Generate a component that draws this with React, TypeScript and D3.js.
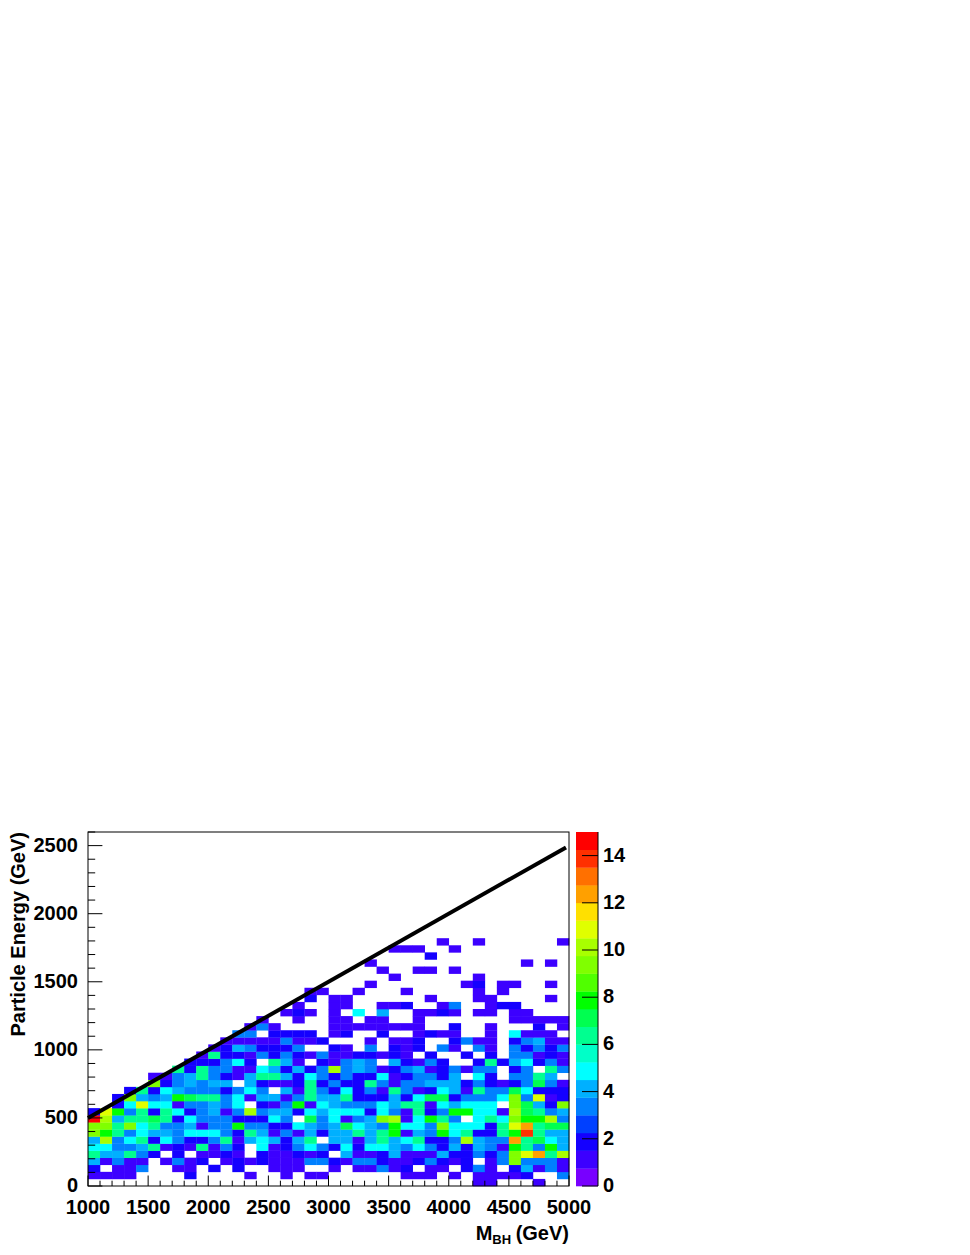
import { scaleLinear, scaleQuantize, scaleBand, range, line } from 'd3';

const width = 970;
const height = 1255;

// frame in page pixels
const left = 88;
const right = 569;
const top = 832;
const bottom = 1186;

// palette of the z axis, bottom to top (20 contours over 0-15)
const palette = [
    '#7800ff', '#3c00ff', '#1400ff', '#0040ff', '#0080ff', '#00b0ff', '#00ffff', '#00ffc8', '#00ff90', '#00ff50',
    '#00ff00', '#50ff00', '#80ff00', '#a8ff00', '#e0ff00', '#ffe000', '#ffa000', '#ff7000', '#ff3000', '#ff0000',
];

const xTicks = [1000, 1500, 2000, 2500, 3000, 3500, 4000, 4500, 5000];
const yTicks = [0, 500, 1000, 1500, 2000, 2500];
const zTicks = [0, 2, 4, 6, 8, 10, 12, 14];

// the M = 2E limit, drawn in black
const limitMass = [1000, 4975];
const limitEnergy = [500, 2487];

// one row per energy bin, from the bottom up; 40 mass bins, 50 energy bins
const row00 = [0,0,0,0,0,0,0,0,0,0, 0,0,0,0,0,0,0,0,0,0, 0,0,0,0,0,0,0,0,0,0, 0,0,1,1,0,0,0,1,0,0];
const row01 = [1,1,1,1,0,0,0,0,2,0, 0,0,0,1,0,0,1,0,1,1, 0,0,0,0,0,0,1,1,1,0, 1,0,1,1,1,1,2,0,0,3];
const row02 = [2,0,1,1,3,0,0,1,1,0, 2,0,2,0,0,1,1,1,0,0, 1,0,1,1,3,1,2,0,1,1, 0,2,3,1,0,2,4,1,3,1];
const row03 = [4,1,3,1,1,0,1,3,1,2, 0,1,2,1,2,1,1,1,3,3, 2,1,3,3,2,1,1,2,3,2, 1,2,0,1,3,9,3,3,3,1];
const row04 = [6,4,4,6,3,2,0,2,0,1, 1,2,1,0,2,1,1,2,1,2, 0,4,1,1,2,4,1,1,1,4, 2,2,3,2,3,9,11,12,6,10];
const row05 = [5,5,3,3,4,6,1,2,1,6, 1,3,2,0,5,1,2,3,5,3, 2,5,2,5,5,4,3,5,3,2, 4,2,4,3,1,8,6,3,8,4];
const row06 = [4,10,3,5,6,2,5,3,2,2, 3,6,1,4,5,4,2,4,6,0, 4,4,1,4,6,4,5,6,2,2, 3,10,4,3,3,12,6,7,5,4];
const row07 = [9,8,6,3,5,4,4,3,5,5, 5,3,2,6,4,1,3,1,4,2, 4,4,6,4,6,8,1,4,3,8, 5,6,2,2,6,8,14,6,4,4];
const row08 = [9,9,6,9,5,6,3,3,4,1, 3,3,8,3,3,2,2,5,4,3, 4,7,5,4,3,8,5,5,3,9, 5,5,5,2,6,11,12,6,7,7];
const row09 = [15,10,4,6,6,7,6,2,5,3, 3,3,2,2,2,5,3,0,7,3, 5,1,3,4,9,10,1,5,8,6, 3,0,5,6,5,9,8,8,10,3];
const row10 = [2,11,8,3,6,2,6,5,2,3, 4,1,3,10,3,4,4,2,5,4, 5,5,5,2,5,3,1,6,2,3, 8,8,5,5,1,10,7,6,3,4];
const row11 = [0,0,2,5,11,5,5,1,3,3, 4,3,5,0,2,1,3,8,1,5, 4,3,3,3,5,4,6,6,1,5, 4,5,5,5,0,9,7,4,2,9];
const row12 = [0,0,2,9,4,3,4,8,7,6, 6,3,5,1,4,4,1,3,6,4, 4,6,2,2,2,4,2,5,7,7, 2,3,3,3,5,9,3,11,1,2];
const row13 = [0,0,0,2,6,2,5,4,3,3, 3,2,3,5,3,0,4,1,6,3, 2,5,2,3,1,6,3,1,2,5, 4,1,6,3,3,7,5,2,2,2];
const row14 = [0,0,0,0,0,9,2,3,4,3, 4,4,0,4,2,1,1,2,6,2, 3,2,2,6,3,1,3,3,4,4, 4,2,3,2,1,2,3,7,3,1];
const row15 = [0,0,0,0,0,1,1,3,4,6, 3,2,1,4,6,6,4,2,5,3, 2,3,2,2,5,1,2,3,3,2, 4,0,5,2,0,3,3,6,4,0];
const row16 = [0,0,0,0,0,0,0,6,2,6, 3,3,1,1,5,4,2,4,2,3, 10,3,4,3,1,2,3,4,1,2, 3,1,3,3,0,2,3,0,6,3];
const row17 = [0,0,0,0,0,0,0,0,2,2, 2,3,5,2,0,6,4,1,0,2, 1,3,4,3,0,4,2,1,3,2, 0,0,2,6,2,4,5,2,3,1];
const row18 = [0,0,0,0,0,0,0,0,0,1, 6,2,2,1,3,2,3,2,1,3, 1,1,2,2,1,2,1,0,2,0, 0,2,0,2,0,3,3,1,2,1];
const row19 = [0,0,0,0,0,0,0,0,0,0, 1,2,4,3,2,2,2,3,0,0, 2,1,0,3,0,2,1,2,0,3, 1,0,3,1,0,3,2,3,2,3];
const row20 = [0,0,0,0,0,0,0,0,0,0, 0,1,1,1,1,1,3,1,1,2, 0,0,0,1,0,1,1,2,0,0, 2,3,1,1,0,2,3,4,1,1];
const row21 = [0,0,0,0,0,0,0,0,0,0, 0,0,3,3,0,2,2,2,2,0, 1,2,0,0,2,0,0,1,2,1, 1,0,0,1,0,5,1,1,1,0];
const row22 = [0,0,0,0,0,0,0,0,0,0, 0,0,0,1,3,1,0,0,0,0, 1,1,1,1,1,1,1,1,0,0, 2,0,0,1,0,0,0,2,0,1];
const row23 = [0,0,0,0,0,0,0,0,0,0, 0,0,0,0,1,0,0,1,0,0, 1,1,0,1,1,0,0,1,0,0, 0,0,0,0,0,1,1,1,1,1];
const row24 = [0,0,0,0,0,0,0,0,0,0, 0,0,0,0,0,0,1,2,1,0, 1,0,5,0,4,0,0,1,1,2, 1,0,1,1,0,1,1,0,0,0];
const row25 = [0,0,0,0,0,0,0,0,0,0, 0,0,0,0,0,0,0,1,0,0, 1,1,0,0,1,1,2,0,0,1, 3,0,0,1,2,2,0,0,0,0];
const row26 = [0,0,0,0,0,0,0,0,0,0, 0,0,0,0,0,0,0,0,2,0, 1,1,0,0,0,0,0,0,1,0, 0,0,1,1,0,0,0,0,1,0];
const row27 = [0,0,0,0,0,0,0,0,0,0, 0,0,0,0,0,0,0,0,1,1, 0,0,1,0,0,0,1,0,0,0, 0,0,1,0,1,0,0,0,0,0];
const row28 = [0,0,0,0,0,0,0,0,0,0, 0,0,0,0,0,0,0,0,0,0, 0,0,0,1,0,0,0,0,0,0, 0,1,2,0,1,1,0,0,1,0];
const row29 = [0,0,0,0,0,0,0,0,0,0, 0,0,0,0,0,0,0,0,0,0, 0,0,0,0,0,1,0,0,0,0, 0,0,1,0,0,0,0,0,0,0];
const row30 = [0,0,0,0,0,0,0,0,0,0, 0,0,0,0,0,0,0,0,0,0, 0,0,0,0,1,0,0,1,1,0, 1,0,0,0,0,0,0,0,0,0];
const row31 = [0,0,0,0,0,0,0,0,0,0, 0,0,0,0,0,0,0,0,0,0, 0,0,0,1,0,0,0,0,0,0, 0,0,0,0,0,0,1,0,1,0];
const row32 = [0,0,0,0,0,0,0,0,0,0, 0,0,0,0,0,0,0,0,0,0, 0,0,0,0,0,0,0,0,2,0, 0,0,0,0,0,0,0,0,0,0];
const row33 = [0,0,0,0,0,0,0,0,0,0, 0,0,0,0,0,0,0,0,0,0, 0,0,0,0,0,1,1,1,0,0, 1,0,0,0,0,0,0,0,0,0];
const row34 = [0,0,0,0,0,0,0,0,0,0, 0,0,0,0,0,0,0,0,0,0, 0,0,0,0,0,0,0,0,0,1, 0,0,1,0,0,0,0,0,0,1];

const rows = [
    row00, row01, row02, row03, row04, row05, row06, row07, row08, row09,
    row10, row11, row12, row13, row14, row15, row16, row17, row18, row19,
    row20, row21, row22, row23, row24, row25, row26, row27, row28, row29,
    row30, row31, row32, row33, row34,
];

const x = scaleLinear().domain([1000, 5000]).range([left, right]);
const y = scaleLinear().domain([0, 2600]).range([bottom, top]);
const z = scaleLinear().domain([0, 15]).range([bottom, top]);
const colour = scaleQuantize<string>().domain([0, 15]).range(palette);

const massBins = scaleBand<number>().domain(range(40)).range([left, right]);
const energyBins = scaleBand<number>().domain(range(50)).range([bottom, top]);
const zBands = scaleBand<number>().domain(range(20)).range([bottom, top]);

const limitPath = line<number>()
    .x((m) => x(m))
    .y((_, i) => y(limitEnergy[i]));

const font = { fontFamily: '"Liberation Sans", Arial, sans-serif', fontWeight: 'bold', fontSize: 20, fill: '#000' };

export default function App() {
    const xMinor = range(1000, 5001, 100);
    const yMinor = range(0, 2601, 100);

    return (
        <svg width={width} height={height} style={{ position: 'absolute', left: 0, top: 0, background: '#fff' }}>
            {rows.map((row, r) =>
                row.map((v, c) =>
                    v > 0 ? (
                        <rect
                            key={`${r}-${c}`}
                            x={massBins(c)}
                            y={energyBins(r)!}
                            width={massBins.bandwidth() + 0.3}
                            height={energyBins.bandwidth() + 0.3}
                            fill={colour(v)}
                        />
                    ) : null
                )
            )}

            <path d={limitPath(limitMass)!} fill="none" stroke="#000" strokeWidth={4} />

            {xMinor.map((t) => (
                <line key={t} x1={x(t)} x2={x(t)} y1={bottom} y2={bottom - (t % 500 === 0 ? 10.5 : 5.3)} stroke="#000" strokeWidth={1} />
            ))}
            {yMinor.map((t) => (
                <line key={t} x1={left} x2={left + (t % 500 === 0 ? 14.4 : 7.2)} y1={y(t)} y2={y(t)} stroke="#000" strokeWidth={1} />
            ))}
            <rect x={left} y={top} width={right - left} height={bottom - top} fill="none" stroke="#000" strokeWidth={1} />

            {xTicks.map((t) => (
                <text key={t} x={x(t)} y={1214} textAnchor="middle" {...font}>{t}</text>
            ))}
            {yTicks.map((t) => (
                <text key={t} x={78} y={y(t) + 6} textAnchor="end" {...font}>{t}</text>
            ))}

            <text x={569} y={1240} textAnchor="end" {...font}>
                M<tspan fontSize={13} dy={4}>BH</tspan><tspan dy={-4} dx={-1}> (GeV)</tspan>
            </text>
            <text transform="translate(25,832) rotate(-90)" textAnchor="end" {...font}>Particle Energy (GeV)</text>

            {zBands.domain().map((b) => (
                <rect key={b} x={576} y={zBands(b)!} width={22} height={zBands.bandwidth() + 0.3} fill={palette[b]} />
            ))}
            <line x1={598} x2={598} y1={top} y2={bottom} stroke="#000" strokeWidth={1} />
            {zTicks.map((t) => (
                <g key={t}>
                    <line x1={582} x2={598} y1={z(t)} y2={z(t)} stroke="#000" strokeWidth={1} />
                    <text x={603} y={z(t) + 6} {...font}>{t}</text>
                </g>
            ))}
        </svg>
    );
}
